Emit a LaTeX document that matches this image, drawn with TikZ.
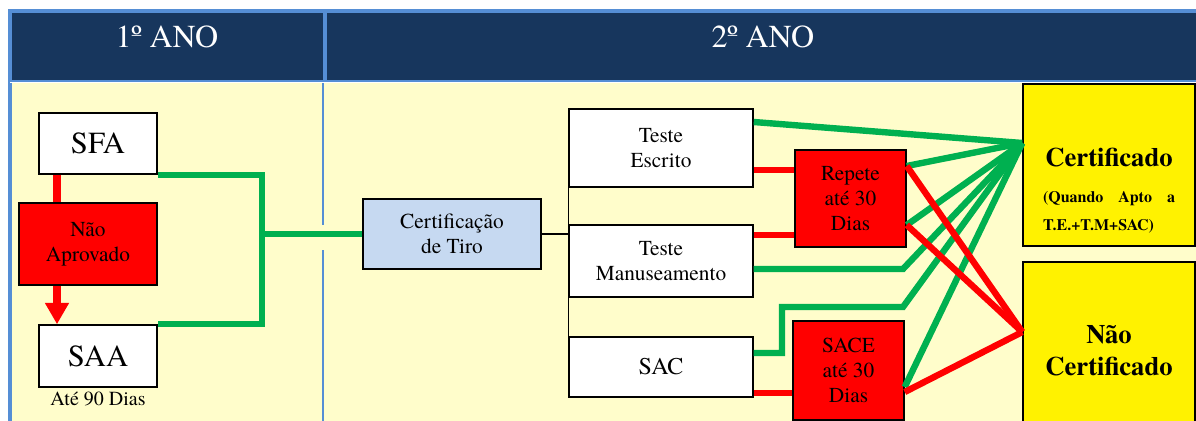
\documentclass[tikz,border=0pt]{standalone}
\usepackage{fontspec}
\setmainfont{TeX Gyre Termes}
\usetikzlibrary{positioning, arrows.meta}

\definecolor{azulescuro}{HTML}{17365D}
\definecolor{azulborda}{HTML}{558ED5}
\definecolor{fundo}{HTML}{FFFDCB}
\definecolor{verde}{HTML}{00B050}
\definecolor{azulclaro}{HTML}{C6D9F1}

\tikzset{
  cabecalho/.style={text=white, font=\fontsize{24}{28}\selectfont},
  caixa/.style={draw, line width=1.1pt, fill=white, inner sep=0pt, align=center, font=\fontsize{16}{19}\selectfont},
  falhabox/.style={caixa, fill=red},
  resultado/.style={caixa, fill=yellow, font=\fontsize{20}{24}\selectfont\bfseries},
  aprovado/.style={verde, line width=4.8pt},
  falha/.style={red, line width=4.8pt},
  ligacao/.style={black, line width=1.1pt}
}

\begin{document}
\begin{tikzpicture}[x=0.75pt, y=-0.75pt]
	\useasboundingbox (0,0) rectangle (1196,421);
	% tabela
	\draw[azulborda, line width=0.9pt] (9,10) rectangle (1205,430);
	\filldraw[fill=azulescuro, draw=azulborda, line width=0.9pt] (11,12) rectangle (324,81) (326,12) rectangle (1205,81);
	\fill[fundo] (11,83) rectangle (1205,430);
	\draw[azulborda, line width=0.9pt] (11,83) -- (11,430) (323,83) -- (323,225) (323,250) -- (323,430);
	\node[cabecalho] (ano1) at (167,37) {1º ANO};
	\node[cabecalho] (ano2) at (763,37) {2º ANO};

	% 1o ano
	\node[caixa, font=\fontsize{23}{27}\selectfont, minimum width=88.5pt, minimum height=45.75pt] (sfa) at (98,143.5) {SFA};
	\node[falhabox, minimum width=103.5pt, minimum height=61.5pt] (nao) at (88,244) {Não\\Aprovado};
	\node[caixa, font=\fontsize{23}{27}\selectfont, minimum width=88.5pt, minimum height=46.5pt] (saa) at (98,356) {SAA};
	\node[below=0pt of saa, font=\fontsize{15}{18}\selectfont] (prazo) {Até 90 Dias};

	% 2o ano
	\node[caixa, fill=azulclaro, minimum width=133.5pt, minimum height=52.5pt] (tiro) at (452,234) {Certificação\\de Tiro};
	\node[caixa, minimum width=138pt, minimum height=58.5pt] (escrito) at (661,148) {Teste\\Escrito};
	\node[caixa, minimum width=138pt, minimum height=54pt] (manuseio) at (661,261) {Teste\\Manuseamento};
	\node[caixa, font=\fontsize{18}{22}\selectfont, minimum width=138pt, minimum height=45pt] (sac) at (661,367) {SAC};
	\node[falhabox, minimum width=83.25pt, minimum height=72.75pt] (repete) at (850.5,198.5) {Repete\\até 30\\Dias};
	\node[falhabox, minimum width=83.25pt, minimum height=74.25pt] (sace) at (848.5,370.5) {SACE\\até 30\\Dias};
	\node[resultado, minimum width=129pt, minimum height=121.5pt] (cert) at (1109,165) {\parbox[c][100pt][b]{99pt}{{\centering Certificado\par}\vspace{6pt}{\fontsize{12}{21}\selectfont (Quando Apto a T.E.+T.M+SAC)\par}}};
	\node[resultado, minimum width=129pt, minimum height=133.5pt] (naocert) at (1109,351) {Não\\Certificado};

	% ligacoes 1o ano
	\coordinate (juncao) at (262,0);
	\coordinate (desce) at (57,0);
	\draw[aprovado] (sfa.south east) -| (juncao |- tiro.west) |- (saa.north east);
	\draw[aprovado] (juncao |- tiro.west) -- (tiro.west);
	\draw[falha, line width=5.6pt] (sfa.south -| desce) -- (nao.north -| desce);
	\draw[falha, line width=5.6pt, -{Triangle[width=17pt, length=16pt]}] (nao.south -| desce) -- (saa.north -| desce);

	% ligacoes 2o ano
	\draw[ligacao] (tiro.east) -- (tiro.east -| manuseio.west);
	\draw[ligacao] (escrito.south west) -- (sac.north west);
	\coordinate (aprova) at (cert.west |- 0,143);
	\coordinate (reprova) at (naocert.west |- 0,332);
	\draw[aprovado] (escrito.east |- 0,122) -- (aprova);
	\draw[aprovado] (repete.east |- 0,166) -- (aprova);
	\draw[aprovado] (repete.east |- 0,225) -- (aprova);
	\draw[aprovado] (manuseio.east |- 0,269) -- (903,269) -- (aprova);
	\draw[aprovado] (sac.east |- 0,353) -| (782,307) -- (903,307) -- (aprova);
	\draw[aprovado] (sace.east |- 0,387) -- (aprova);
	\draw[falha] (escrito.east |- 0,170) -- (repete.west |- 0,170);
	\draw[falha] (manuseio.east |- 0,235) -- (repete.west |- 0,235);
	\draw[falha] (sac.east |- 0,393) -- (sace.west |- 0,393);
	\draw[falha] (repete.east |- 0,166) -- (reprova);
	\draw[falha] (repete.east |- 0,225) -- (reprova);
	\draw[falha] (sace.east |- 0,392) -- (reprova);
\end{tikzpicture}
\end{document}
